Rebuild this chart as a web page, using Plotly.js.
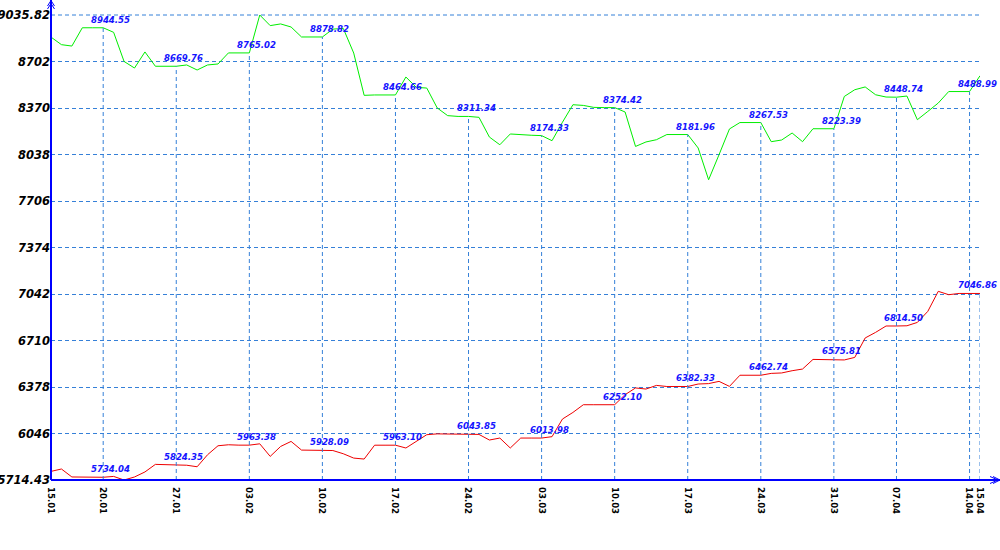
<!DOCTYPE html>
<html>
<head>
<meta charset="utf-8">
<script src="https://cdn.plot.ly/plotly-3.0.1.min.js"></script>
<style>
  html, body { margin: 0; padding: 0; background: #ffffff; }
  #chart { width: 1000px; height: 550px; }
</style>
</head>
<body>
<div id="chart"></div>
<script>
// ---- data ----
const dates = [
  '15.01','16.01','17.01','18.01','19.01','20.01','21.01','22.01','23.01','24.01',
  '25.01','26.01','27.01','28.01','29.01','30.01','31.01','01.02','02.02','03.02',
  '04.02','05.02','06.02','07.02','08.02','09.02','10.02','11.02','12.02','13.02',
  '14.02','15.02','16.02','17.02','18.02','19.02','20.02','21.02','22.02','23.02',
  '24.02','25.02','26.02','27.02','28.02','01.03','02.03','03.03','04.03','05.03',
  '06.03','07.03','08.03','09.03','10.03','11.03','12.03','13.03','14.03','15.03',
  '16.03','17.03','18.03','19.03','20.03','21.03','22.03','23.03','24.03','25.03',
  '26.03','27.03','28.03','29.03','30.03','31.03','01.04','02.04','03.04','05.04',
  '06.04','07.04','08.04','09.04','10.04','11.04','12.04','13.04','14.04','15.04'
];

const greenSeries = [
  8878, 8824, 8814, 8944.55, 8944.55, 8944.55, 8912, 8704, 8657, 8772,
  8669.76, 8669.76, 8669.76, 8679, 8643, 8679, 8686, 8765.02, 8765.02, 8765.02,
  9035.82, 8960, 8972, 8950, 8878.82, 8878.82, 8878.82, 8935, 8940, 8764,
  8462, 8464.66, 8464.66, 8464.66, 8593, 8519, 8514, 8372, 8317, 8311.34,
  8311.34, 8305, 8164, 8109, 8186, 8180, 8177, 8174.33, 8138, 8270,
  8395, 8390, 8376, 8374.42, 8374.42, 8343, 8097, 8129, 8145, 8181.96,
  8181.96, 8181.96, 8086, 7859, 8038, 8222, 8267.53, 8267.53, 8267.53, 8131,
  8143, 8193, 8131, 8223.39, 8223.39, 8223.39, 8454, 8502, 8522, 8466,
  8450, 8448.74, 8457, 8288, 8347, 8407, 8488.99, 8488.99, 8488.99, 8602
];

const redSeries = [
  5776, 5793, 5736, 5734.04, 5734.04, 5734.04, 5740, 5714.43, 5736, 5772,
  5826, 5824.35, 5824.35, 5820, 5809, 5895, 5959, 5966, 5963.38, 5963.38,
  5973, 5883, 5954, 5990, 5928.09, 5928.09, 5928.09, 5925, 5902, 5871,
  5864, 5963.10, 5963.10, 5963.10, 5943, 5990, 6038, 6043.85, 6043.85, 6043.85,
  6043.85, 6040, 6000, 6014, 5943, 6013.98, 6013.98, 6013.98, 6024, 6150,
  6197, 6252.10, 6252.10, 6252.10, 6252.10, 6324, 6372, 6364, 6390, 6382.33,
  6382.33, 6382.33, 6400, 6403, 6419, 6383, 6462.74, 6462.74, 6462.74, 6476,
  6479, 6495, 6507, 6575.81, 6575.81, 6575.81, 6572, 6590, 6729, 6769,
  6814.50, 6814.50, 6816, 6840, 6919, 7062, 7038, 7046.86, 7046.86, 7046.86
];

const tickDates = ['15.01','20.01','27.01','03.02','10.02','17.02','24.02','03.03',
                   '10.03','17.03','24.03','31.03','07.04','14.04','15.04'];
const labelDates = ['20.01','27.01','03.02','10.02','17.02','24.02','03.03',
                    '10.03','17.03','24.03','31.03','07.04','14.04'];

const yTickVals = [5714.43, 6046, 6378, 6710, 7042, 7374, 7706, 8038, 8370, 8702, 9035.82];
const yTickText = ['5714.43','6046','6378','6710','7042','7374','7706','8038','8370','8702','9035.82'];

// ---- styling ----
const yMin = yTickVals[0], yMax = yTickVals[yTickVals.length - 1];
const gridColor = '#3580d8';
const axisBlue = '#0000ff';
const labelBlue = '#1414ff';
const labelFont = {family: 'DejaVu Sans Condensed, DejaVu Sans, sans-serif', size: 9.5,
                   color: labelBlue, weight: 'bold', style: 'italic'};

// drop lines from green points (and last red point) to the x axis
const dropX = [], dropY = [];
labelDates.forEach(d => {
  const i = dates.indexOf(d);
  dropX.push(d, d, d);
  dropY.push(yMin, greenSeries[i], null);
});
const lastDate = dates[dates.length - 1];
dropX.push(lastDate, lastDate, lastDate);
dropY.push(yMin, redSeries[redSeries.length - 1], null);

const traces = [
  {x: dates, y: greenSeries, type: 'scatter', mode: 'lines', name: 'green',
   line: {color: '#00ee00', width: 1}, showlegend: false},
  {x: dates, y: redSeries, type: 'scatter', mode: 'lines', name: 'red',
   line: {color: '#ee0000', width: 1}, showlegend: false},
  {x: dropX, y: dropY, type: 'scatter', mode: 'lines', hoverinfo: 'skip',
   line: {color: gridColor, width: 1, dash: '4px,3px'}, connectgaps: false, showlegend: false}
];

const annotations = [];
labelDates.forEach(d => {
  const i = dates.indexOf(d);
  [greenSeries, redSeries].forEach(s => {
    annotations.push({
      x: i, y: s[i], xref: 'x', yref: 'y', text: s[i].toFixed(2),
      showarrow: false, xanchor: 'left', yanchor: 'bottom',
      xshift: -13, yshift: 2, font: labelFont, borderpad: 0
    });
  });
});

// plot area: x 51..980 px, y 15..480 px
const pxX = px => (px - 51) / 929;
const pxY = py => (480 - py) / 465;
const shapes = [
  {type: 'line', xref: 'paper', yref: 'paper', x0: 0, x1: 1, y0: 1, y1: 1,
   line: {color: gridColor, width: 1, dash: '4px,3px'}, layer: 'below'},
  // y axis line (extends to top of page)
  {type: 'line', xref: 'paper', yref: 'paper', x0: 0, x1: 0, y0: 0, y1: pxY(0),
   line: {color: axisBlue, width: 2}},
  // x axis line (extends to right edge)
  {type: 'line', xref: 'paper', yref: 'paper', x0: 0, x1: pxX(1000), y0: 0, y1: 0,
   line: {color: axisBlue, width: 2}},
  // y arrow heads
  {type: 'path', xref: 'paper', yref: 'paper',
   path: `M ${pxX(47.5)} ${pxY(6)} L ${pxX(51)} ${pxY(0.5)} L ${pxX(54.5)} ${pxY(6)} M ${pxX(47.5)} ${pxY(9)} L ${pxX(51)} ${pxY(3.5)} L ${pxX(54.5)} ${pxY(9)}`,
   line: {color: axisBlue, width: 1}},
  // x arrow heads
  {type: 'path', xref: 'paper', yref: 'paper',
   path: `M ${pxX(990)} ${pxY(476.5)} L ${pxX(998)} ${pxY(480)} L ${pxX(990)} ${pxY(483.5)} M ${pxX(993)} ${pxY(476.5)} L ${pxX(1000)} ${pxY(480)} L ${pxX(993)} ${pxY(483.5)}`,
   line: {color: axisBlue, width: 1}}
];

const layout = {
  width: 1000, height: 550, autosize: false,
  margin: {l: 51, r: 20, t: 15, b: 70, pad: 0},
  paper_bgcolor: '#ffffff', plot_bgcolor: '#ffffff',
  showlegend: false,
  xaxis: {
    type: 'category', categoryorder: 'array', categoryarray: dates,
    range: [0, dates.length - 1], autorange: false,
    tickmode: 'array', tickvals: tickDates, ticktext: tickDates,
    tickangle: 90, ticks: '', ticklabelstandoff: 6,
    showgrid: false, zeroline: false, showline: false,
    tickfont: {family: 'DejaVu Sans Condensed, DejaVu Sans, sans-serif', size: 9.5,
               color: '#000000', weight: 'bold'}
  },
  yaxis: {
    range: [yMin, yMax], autorange: false,
    tickmode: 'array', tickvals: yTickVals, ticktext: yTickText,
    ticks: '', showgrid: true, gridcolor: gridColor, gridwidth: 1, griddash: '4px,3px',
    zeroline: false, showline: false,
    tickfont: {family: 'DejaVu Sans, sans-serif', size: 11.5, color: '#000000',
               weight: 'bold', style: 'italic'}
  },
  annotations: annotations,
  shapes: shapes
};

Plotly.newPlot('chart', traces, layout, {staticPlot: true, displayModeBar: false});
</script>
</body>
</html>
